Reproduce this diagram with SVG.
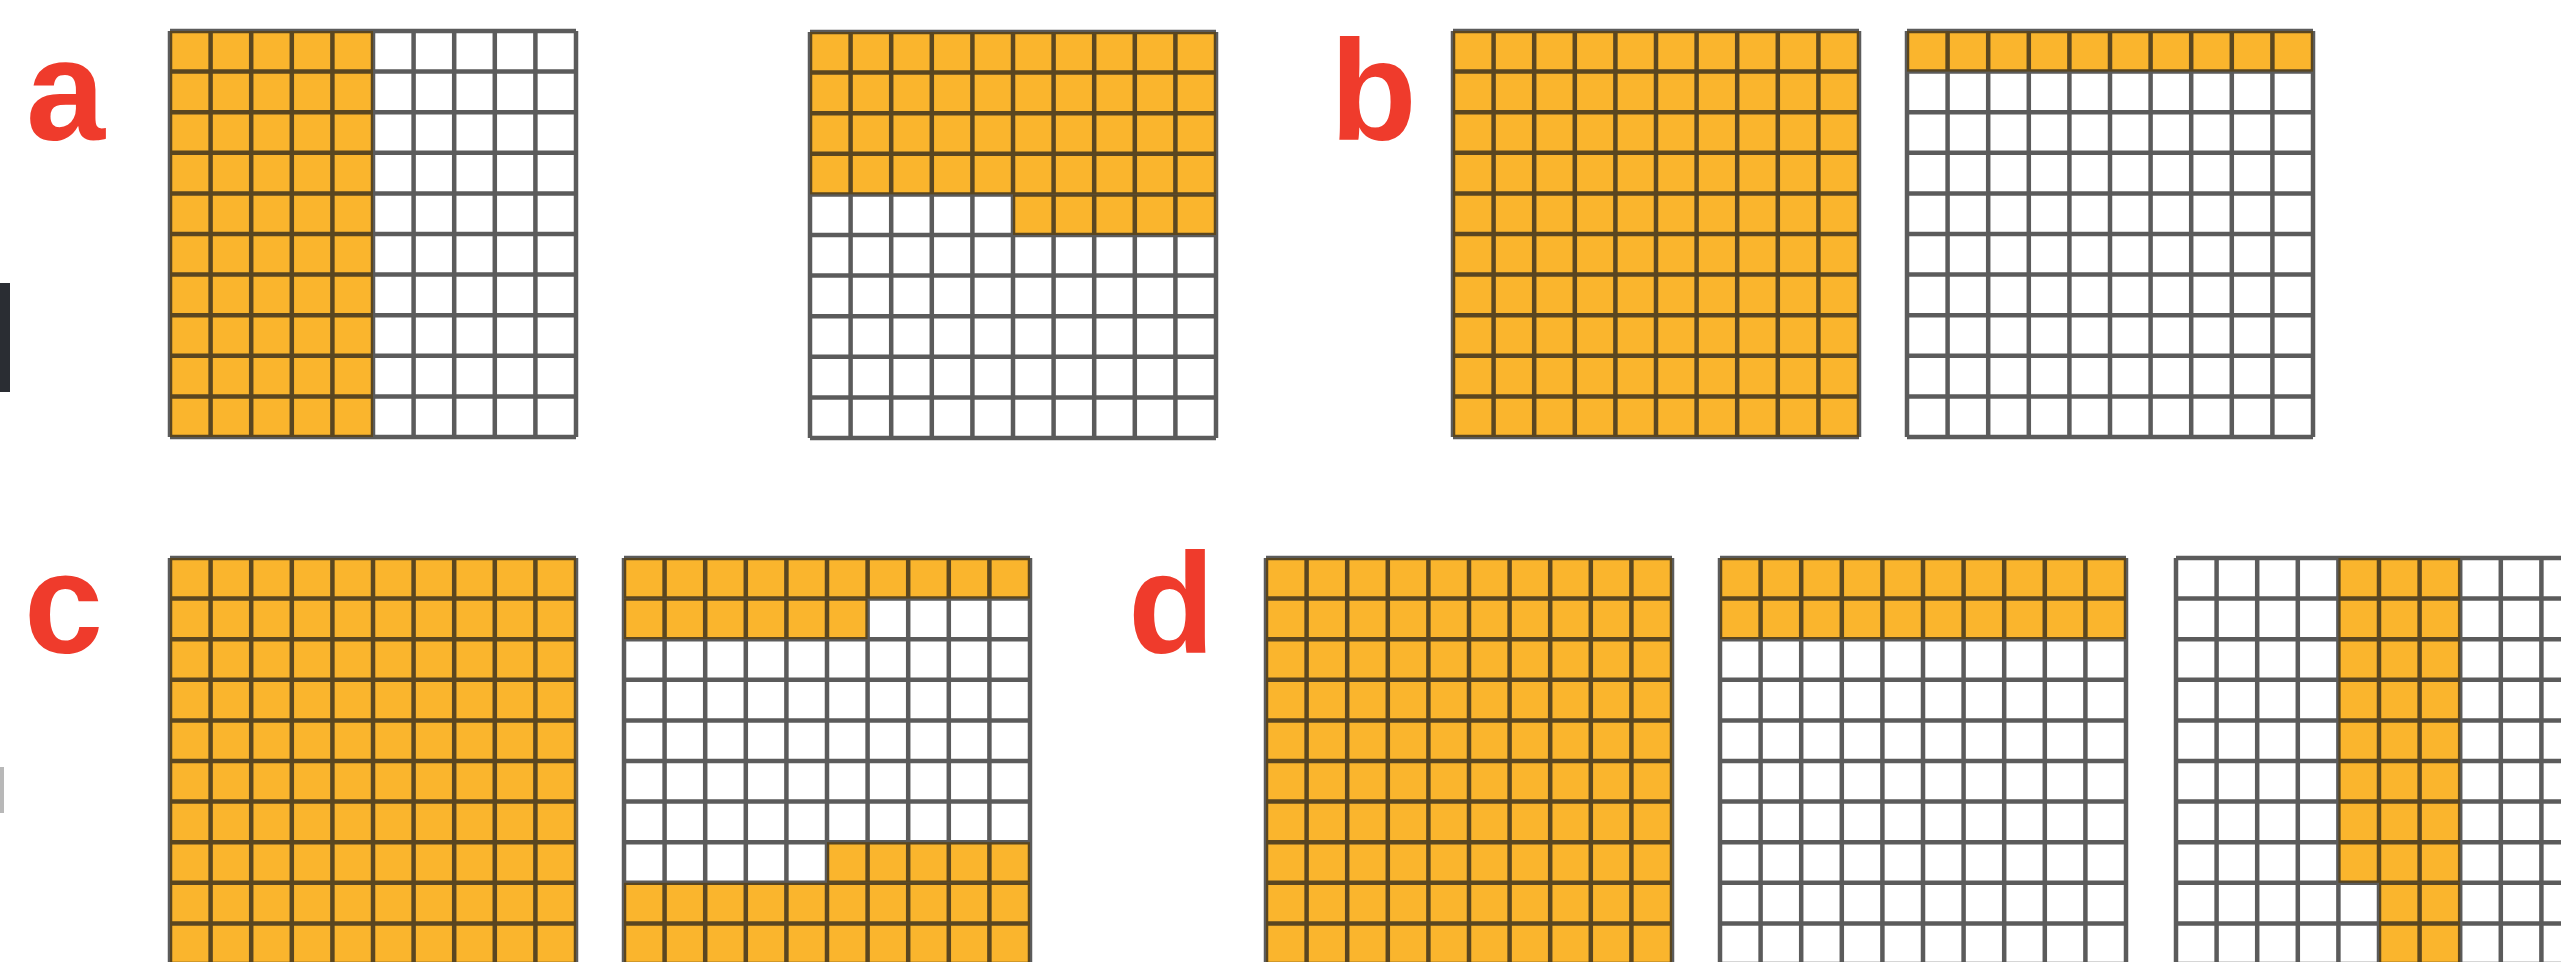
<svg xmlns="http://www.w3.org/2000/svg" xmlns:xlink="http://www.w3.org/1999/xlink" width="2561" height="962" viewBox="0 0 2561 962">
<style>
.bg{fill:#ffffff}
.on{fill:#FAB52D}
.gl{fill:none;stroke:#1c1c1c;stroke-opacity:0.72;stroke-width:4.5}
.lbl{font-family:"Liberation Sans","DejaVu Sans",sans-serif;font-weight:bold;font-size:142px;fill:#EF3B2C}
</style>
<defs>
<path id="gridlines" class="gl" d="M0 0H406M0 40.6H406M0 81.2H406M0 121.8H406M0 162.4H406M0 203H406M0 243.6H406M0 284.2H406M0 324.8H406M0 365.4H406M0 406H406M0 0V406M40.6 0V406M81.2 0V406M121.8 0V406M162.4 0V406M203 0V406M243.6 0V406M284.2 0V406M324.8 0V406M365.4 0V406M406 0V406"/>
</defs>
<rect x="0" y="0" width="2561" height="962" fill="#ffffff"/>
<rect x="0" y="283" width="10" height="109" fill="#2a2d33"/>
<rect x="0" y="767" width="4" height="46" fill="#b8b8b8"/>
<g id="labels">
<text class="lbl" x="26" y="140">a</text>
<text class="lbl" x="1330" y="140">b</text>
<text class="lbl" x="24" y="653">c</text>
<text class="lbl" x="1128" y="653">d</text>
</g>
<g id="grid-a1" transform="translate(170,31)">
<rect class="bg" width="406" height="406"/>
<rect class="on" x="0" y="0" width="203" height="406"/>
<use xlink:href="#gridlines"/>
</g>
<g id="grid-a2" transform="translate(810,32)">
<rect class="bg" width="406" height="406"/>
<rect class="on" x="0" y="0" width="406" height="162.4"/>
<rect class="on" x="203" y="162.4" width="203" height="40.6"/>
<use xlink:href="#gridlines"/>
</g>
<g id="grid-b1" transform="translate(1453,31)">
<rect class="bg" width="406" height="406"/>
<rect class="on" x="0" y="0" width="406" height="406"/>
<use xlink:href="#gridlines"/>
</g>
<g id="grid-b2" transform="translate(1907,31)">
<rect class="bg" width="406" height="406"/>
<rect class="on" x="0" y="0" width="406" height="40.6"/>
<use xlink:href="#gridlines"/>
</g>
<g id="grid-c1" transform="translate(170,558)">
<rect class="bg" width="406" height="406"/>
<rect class="on" x="0" y="0" width="406" height="406"/>
<use xlink:href="#gridlines"/>
</g>
<g id="grid-c2" transform="translate(624,558)">
<rect class="bg" width="406" height="406"/>
<rect class="on" x="0" y="0" width="406" height="40.6"/>
<rect class="on" x="0" y="40.6" width="243.6" height="40.6"/>
<rect class="on" x="203" y="284.2" width="203" height="40.6"/>
<rect class="on" x="0" y="324.8" width="406" height="81.2"/>
<use xlink:href="#gridlines"/>
</g>
<g id="grid-d1" transform="translate(1266,558)">
<rect class="bg" width="406" height="406"/>
<rect class="on" x="0" y="0" width="406" height="406"/>
<use xlink:href="#gridlines"/>
</g>
<g id="grid-d2" transform="translate(1720,558)">
<rect class="bg" width="406" height="406"/>
<rect class="on" x="0" y="0" width="406" height="81.2"/>
<use xlink:href="#gridlines"/>
</g>
<g id="grid-d3" transform="translate(2176,558)">
<rect class="bg" width="406" height="406"/>
<rect class="on" x="162.4" y="0" width="121.8" height="324.8"/>
<rect class="on" x="203" y="324.8" width="81.2" height="81.2"/>
<use xlink:href="#gridlines"/>
</g>
<g id="connectors"></g>
</svg>
